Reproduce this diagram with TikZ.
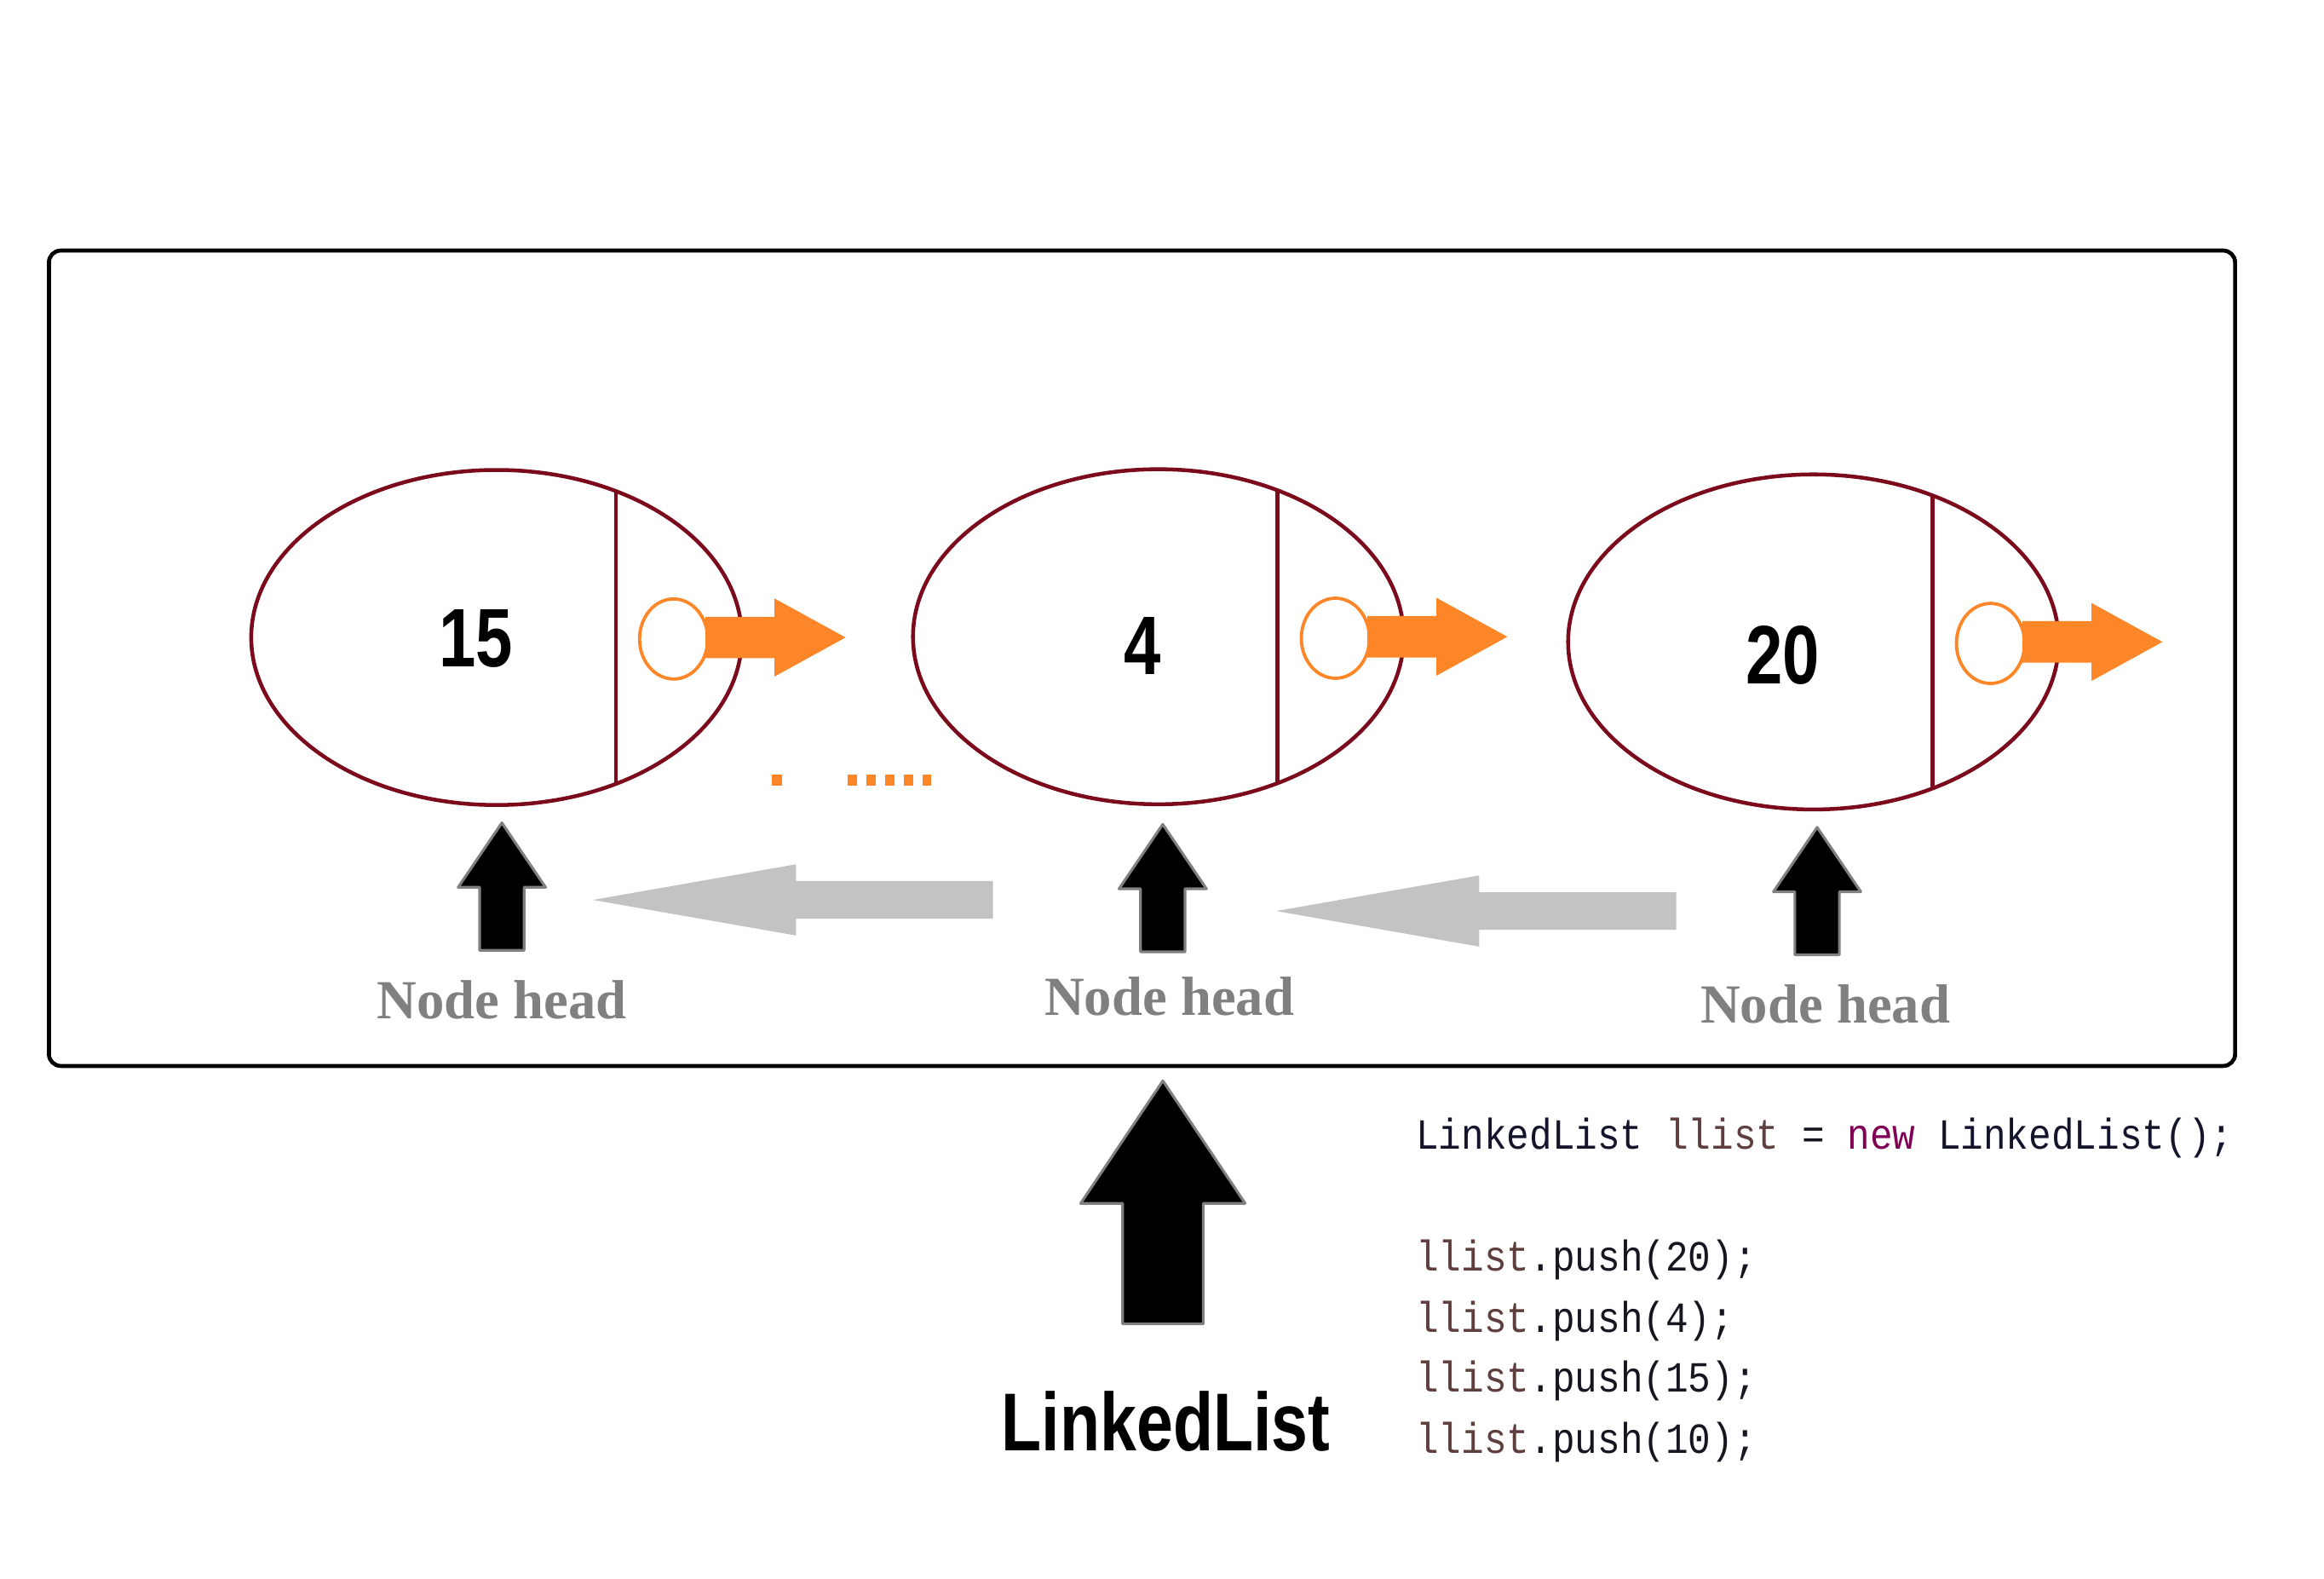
\documentclass[tikz,border=0pt]{standalone}
\usepackage{fontspec}
\usetikzlibrary{shapes.geometric}
\newfontfamily\narrowsans[FakeStretch=0.8]{Liberation Sans}
\newfontfamily\headserif{Liberation Serif}
\newfontfamily\codemono[FakeStretch=0.88]{Liberation Mono}
\definecolor{maroon}{HTML}{7A0A1C}
\definecolor{ptrorange}{HTML}{FD8628}
\definecolor{backgray}{HTML}{C3C3C3}
\definecolor{edgegray}{HTML}{808080}
\definecolor{codetype}{HTML}{14142C}
\definecolor{codevar}{HTML}{5E3E3E}
\definecolor{codekw}{HTML}{7F0055}
\definecolor{codetxt}{HTML}{181420}
\tikzset{
  nodeline/.style={draw=maroon, line width=1.3pt},
  ptrcirc/.style={draw=ptrorange, line width=1.1pt},
  headarrow/.style={fill=black, draw=edgegray, line width=0.9pt, line join=round},
  backarrow/.style={fill=backgray},
  numtext/.style={inner sep=0pt, anchor=base, font=\narrowsans\bfseries\fontsize{28}{30}\selectfont},
  headtext/.style={inner sep=0pt, anchor=base, text=edgegray, font=\headserif\bfseries\fontsize{18.6}{20}\selectfont},
  codetext/.style={inner sep=0pt, anchor=base west, text=codetxt, font=\codemono\fontsize{14.5}{16}\selectfont},
  listnode/.pic={
    \draw[nodeline] (0,0) ellipse [x radius=165.5, y radius=113];
    \draw[nodeline] (80.5,-98.7) -- (80.5,98.7);
    \fill[ptrorange] (141,-14) -- (187.6,-14) -- (187.6,-26.3) -- (235.5,0)
      -- (187.6,26.3) -- (187.6,14) -- (141,14) -- cycle;
    \draw[ptrcirc] (119.5,1) ellipse [x radius=23, y radius=27];
  },
  uparrow/.pic={
    \draw[headarrow] (0,0) -- (29.5,43.5) -- (15,43.5) -- (15,86) -- (-15,86)
      -- (-15,43.5) -- (-29.5,43.5) -- cycle;
  },
  bigup/.pic={
    \draw[headarrow] (0,0) -- (55.5,82.7) -- (27.2,82.7) -- (27.2,164) -- (-27.2,164)
      -- (-27.2,82.7) -- (-55.5,82.7) -- cycle;
  },
  leftarrow/.pic={
    \fill[backarrow] (0,0) -- (137,-24) -- (137,-12.7) -- (270,-12.7) -- (270,12.7)
      -- (137,12.7) -- (137,24) -- cycle;
  }
}
\begin{document}
\begin{tikzpicture}[x=0.5pt, y=-0.5pt]
\useasboundingbox (0,0) rectangle (1568,1064.5);

% frame
\draw[line width=1.35pt, rounded corners=4pt] (33,169) rectangle (1508,719);

% list nodes
\pic at (335,430) {listnode};
\pic at (781.5,429.5) {listnode};
\pic at (1223.5,433) {listnode};
\node[numtext] (n15) at (321,450) {15};
\node[numtext] (n4) at (771,455) {4};
\node[numtext] (n20) at (1203,461) {20};

% orange dots
\fill[ptrorange] (521,522.5) rectangle (527.5,530);
\foreach \k in {0,...,4} {
  \fill[ptrorange] ({571.8+12.6*\k},522.5) rectangle ({578.1+12.6*\k},530);
}

% head arrows
\pic at (338.6,555) {uparrow};
\pic at (784.5,556) {uparrow};
\pic at (1226,558) {uparrow};

% back arrows
\pic at (400,607) {leftarrow};
\pic at (861,614.5) {leftarrow};

% labels
\node[headtext] (h1) at (338.5,687.4) {Node head};
\node[headtext] (h2) at (789,685) {Node head};
\node[headtext] (h3) at (1231.5,690) {Node head};

% LinkedList arrow
\pic at (784.6,729) {bigup};
\node[inner sep=0pt, anchor=base, font=\narrowsans\bfseries\fontsize{27.7}{30}\selectfont] (ll) at (786.6,978.5) {LinkedList};

% code
\node[codetext] (c1) at (955,775) {\textcolor{codetype}{LinkedList} \textcolor{codevar}{llist} = \textcolor{codekw}{new} \textcolor{codetype}{LinkedList();}};
\node[codetext] (c2) at (955,857.5) {\textcolor{codevar}{llist}.push(20);};
\node[codetext] (c3) at (955,898.5) {\textcolor{codevar}{llist}.push(4);};
\node[codetext] (c4) at (955,939) {\textcolor{codevar}{llist}.push(15);};
\node[codetext] (c5) at (955,980.5) {\textcolor{codevar}{llist}.push(10);};
\end{tikzpicture}
\end{document}
